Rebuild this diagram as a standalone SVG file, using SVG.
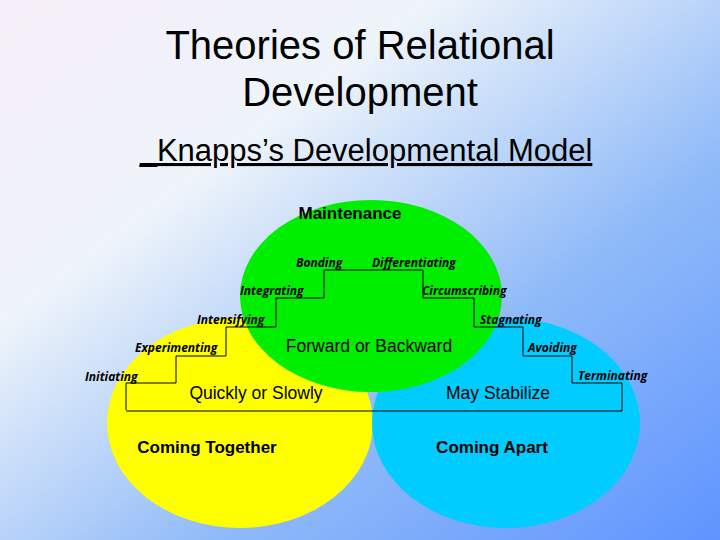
<svg xmlns="http://www.w3.org/2000/svg" width="720" height="540" viewBox="0 0 720 540">
<defs>
<linearGradient id="bg" x1="0" y1="0" x2="1" y2="1">
<stop offset="0" stop-color="#f6eef8"/>
<stop offset="0.3" stop-color="#eef4fa"/>
<stop offset="0.65" stop-color="#8fbaf8"/>
<stop offset="1" stop-color="#5f94ff"/>
</linearGradient>
<style>
.t{font-family:"Liberation Sans",Arial,sans-serif;fill:#000}
.s{font-family:"Open Sans","Liberation Sans",sans-serif;font-style:italic;font-weight:bold;font-size:12px;fill:#000}
.b{font-family:"Liberation Sans",Arial,sans-serif;font-weight:bold;font-size:17px}
</style>
</defs>
<rect width="720" height="540" fill="url(#bg)"/>
<text class="t" x="360" y="59" font-size="40" text-anchor="middle">Theories of Relational</text>
<text class="t" x="360" y="106" font-size="40" text-anchor="middle">Development</text>
<text class="t" x="366" y="161" font-size="31" text-anchor="middle" text-decoration="underline">_Knapps’s Developmental Model</text>
<g id="together"><ellipse cx="240" cy="423" rx="133" ry="105" fill="#ffff00"/>
<text class="b" x="207" y="453" text-anchor="middle">Coming Together</text></g>
<g id="apart"><ellipse cx="506" cy="423" rx="134" ry="105" fill="#00ccff"/>
<text class="b" x="492" y="453" text-anchor="middle">Coming Apart</text></g>
<g id="maintenance"><ellipse cx="371" cy="296" rx="131" ry="96" fill="#00ee00"/>
<text class="b" x="350" y="219" text-anchor="middle">Maintenance</text></g>
<g id="steps"><path d="M126 410 V383 H176 V356 H226 V327 H276 V298 H324 V270 H423 V298 H474 V327 H523 V356 H572 V383 H622 V411 H126" fill="none" stroke="#000" stroke-width="1"/></g>
<g id="labels">
<text class="t" x="256" y="399" font-size="17.5" text-anchor="middle">Quickly or Slowly</text>
<text class="t" x="369" y="352" font-size="17.5" text-anchor="middle">Forward or Backward</text>
<text class="t" x="498" y="399" font-size="17.5" text-anchor="middle">May Stabilize</text>
<text class="s" x="85" y="381">Initiating</text>
<text class="s" x="135" y="352">Experimenting</text>
<text class="s" x="197" y="324">Intensifying</text>
<text class="s" x="240" y="295">Integrating</text>
<text class="s" x="296" y="267">Bonding</text>
<text class="s" x="372" y="267">Differentiating</text>
<text class="s" x="422" y="295">Circumscribing</text>
<text class="s" x="480" y="324">Stagnating</text>
<text class="s" x="528" y="352">Avoiding</text>
<text class="s" x="578" y="380">Terminating</text>
</g>
</svg>
